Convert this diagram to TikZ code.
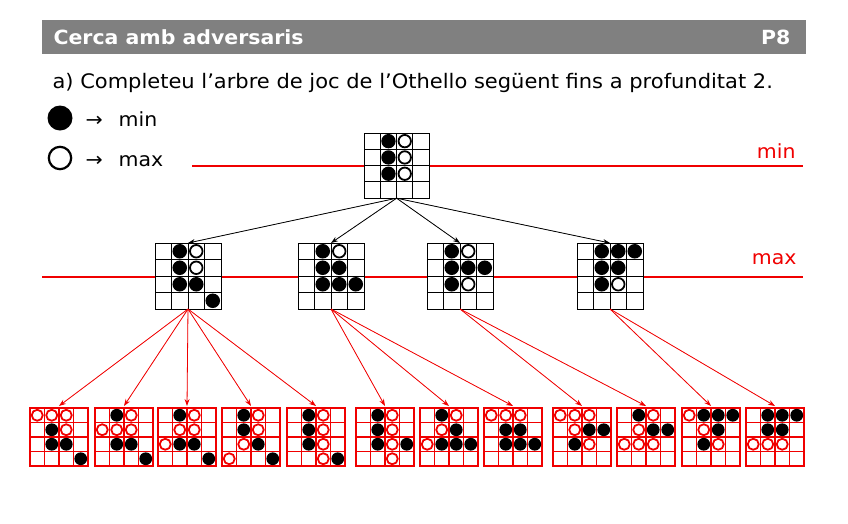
\documentclass[tikz,border=0pt]{standalone}
\usepackage{fontspec}
\setmainfont{DejaVu Sans}[FakeStretch=1.05]
\usetikzlibrary{arrows.meta}
\definecolor{hgray}{RGB}{128,128,128}
\definecolor{lred}{RGB}{240,0,0}
\tikzset{px/.style={x=1pt,y=-1pt,>={Stealth[length=7pt,width=5pt]}}}
\tikzset{boardbox/.style={fill=white,inner sep=0pt,outer sep=0pt},
         gridblack/.style={draw=black,fill=white,line width=0.9pt},
         gridlred/.style={draw=lred,fill=white,line width=1.3pt},
         ring/.style={fill=white,line width=1.8pt},
         level/.style={fill=lred},
         lvltext/.style={text=lred,font=\fontsize{19.5}{21}\selectfont,anchor=base east},
         keytext/.style={anchor=base west,font=\fontsize{19.5}{21}\selectfont},
         tarrow/.style={->,draw=black,fill=black,line width=0.8pt},
         rarrow/.style={->,draw=lred,fill=lred,line width=0.8pt}}
% name, left, top, cell, colour, black stones, white stones
\newcommand{\othboard}[7]{%
  \node[boardbox,minimum size={4*#4pt}] (#1) at ({#2+2*#4},{#3+2*#4}) {};
  \begin{scope}[shift={(#2,#3)},x=#4pt,y=-#4pt]
    \draw[grid#5] (0,0) rectangle (4,4)
      (1,0) -- (1,4) (2,0) -- (2,4) (3,0) -- (3,4)
      (0,1) -- (4,1) (0,2) -- (4,2) (0,3) -- (4,3);
    \foreach \c/\r in {#6} \fill[fill=black] (\c-0.5,\r-0.5) circle (0.44);
    \foreach \c/\r in {#7} \draw[draw=#5,ring] (\c-0.5,\r-0.5) circle (0.38);
  \end{scope}}

\begin{document}
\begin{tikzpicture}[px]
    \useasboundingbox (0,0) rectangle (848,523);
    % header
    \fill[fill=hgray] (42,20) rectangle (806,54);
    \node[text=white,anchor=west,font=\fontsize{19.5}{21}\selectfont\bfseries] (title) at (50,37) {Cerca amb adversaris};
    \node[text=white,anchor=east,font=\fontsize{19.5}{21}\selectfont\bfseries] (page) at (794,37) {P8};
    \node[anchor=base west,font=\fontsize{20}{22}\selectfont] (task) at (49,88)
        {a) Completeu l’arbre de joc de l’Othello següent fins a profunditat 2.};
    % legend
    \fill[fill=black] (60,118) circle (12.5);
    \draw[draw=black,line width=2.2pt] (60,158) circle (11.2);
    \node[keytext] (minkey) at (82,126) {→\hspace{16pt}min};
    \node[keytext] (maxkey) at (82,166) {→\hspace{16pt}max};
    % levels
    \fill[level] (192,165.4) rectangle (803,166.6);
    \fill[level] (42,276.4) rectangle (803,277.6);
    \node[lvltext] (minlvl) at (799,158) {min};
    \node[lvltext] (maxlvl) at (800,264) {max};
    % root and depth 1
    \othboard{root}{364}{133}{16.3}{black}{2/1,2/2,2/3}{3/1,3/2,3/3}
    \othboard{ma}{155}{243}{16.5}{black}{2/1,2/2,2/3,3/3,4/4}{3/1,3/2}
    \othboard{mb}{298}{243}{16.5}{black}{2/1,2/2,3/2,2/3,3/3,4/3}{3/1}
    \othboard{mc}{427}{243}{16.5}{black}{2/1,2/2,3/2,4/2,2/3}{3/1,3/3}
    \othboard{md}{577}{243}{16.5}{black}{2/1,3/1,4/1,2/2,3/2,2/3}{3/3}
    % depth 2
    \othboard{l1}{30}{408}{14.5}{lred}{2/2,2/3,3/3,4/4}{1/1,2/1,3/1,3/2}
    \othboard{l2}{95}{408}{14.5}{lred}{2/1,2/3,3/3,4/4}{3/1,1/2,2/2,3/2}
    \othboard{l3}{158}{408}{14.5}{lred}{2/1,2/3,3/3,4/4}{3/1,2/2,3/2,1/3}
    \othboard{l4}{222}{408}{14.5}{lred}{2/1,2/2,3/3,4/4}{3/1,3/2,2/3,1/4}
    \othboard{l5}{287}{408}{14.5}{lred}{2/1,2/2,2/3,4/4}{3/1,3/2,3/3,3/4}
    \othboard{l6}{356}{408}{14.5}{lred}{2/1,2/2,2/3,4/3}{3/1,3/2,3/3,3/4}
    \othboard{l7}{420}{408}{14.5}{lred}{2/1,3/2,2/3,3/3,4/3}{3/1,2/2,1/3}
    \othboard{l8}{484}{408}{14.5}{lred}{2/2,3/2,2/3,3/3,4/3}{1/1,2/1,3/1}
    \othboard{l9}{553}{408}{14.5}{lred}{3/2,4/2,2/3}{1/1,2/1,3/1,2/2,3/3}
    \othboard{l10}{617}{408}{14.5}{lred}{2/1,3/2,4/2}{3/1,2/2,1/3,2/3,3/3}
    \othboard{l11}{682}{408}{14.5}{lred}{2/1,3/1,4/1,3/2,2/3}{1/1,2/2,3/3}
    \othboard{l12}{746}{408}{14.5}{lred}{2/1,3/1,4/1,2/2,3/2}{1/3,2/3,3/3}
    % moves
    \foreach \m in {ma,mb,mc,md} \draw[tarrow] (root.south) -- (\m.north);
    \foreach \m/\l in {ma/l1,ma/l2,ma/l3,ma/l4,ma/l5,mb/l6,mb/l7,mb/l8,mc/l9,mc/l10,md/l11,md/l12}
        \draw[rarrow] (\m.south) -- ([yshift=2pt]\l.north);
\end{tikzpicture}
\end{document}
